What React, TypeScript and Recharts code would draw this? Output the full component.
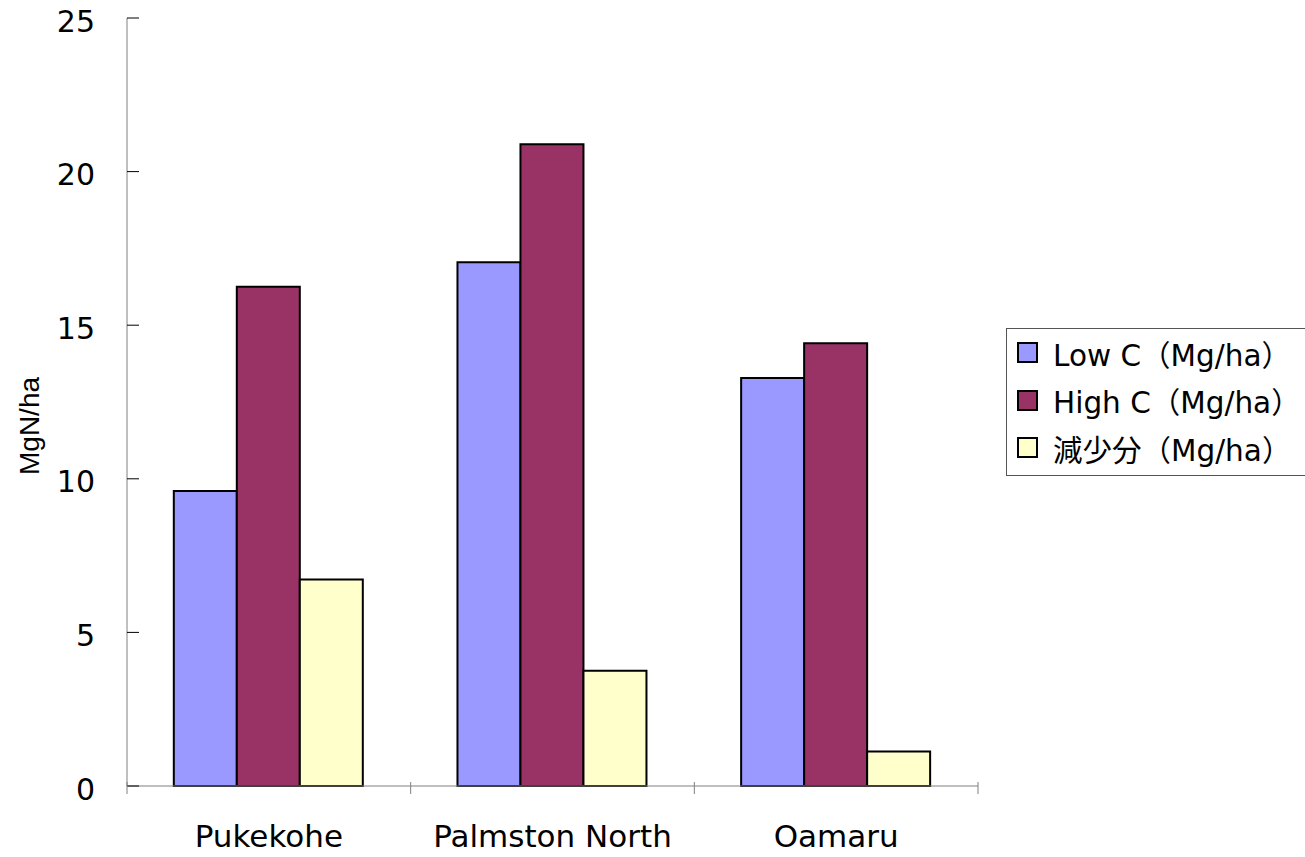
import { Bar, BarChart, Legend, XAxis, YAxis } from "recharts";

const sites = ["Pukekohe", "Palmston North", "Oamaru"];
const lowC = [9.6, 17.05, 13.28];
const highC = [16.25, 20.89, 14.41];
const reduction = [6.72, 3.75, 1.12];
const yTicks = [0, 5, 10, 15, 20, 25];

const seriesDefs = [
  { key: "lowC", name: "Low C（Mg/ha）", color: "#9999ff" },
  { key: "highC", name: "High C（Mg/ha）", color: "#993366" },
  { key: "reduction", name: "減少分（Mg/ha）", color: "#ffffcc" },
];

const data = sites.map((site, i) => ({
  site,
  lowC: lowC[i],
  highC: highC[i],
  reduction: reduction[i],
}));

const FONT = "'DejaVu Sans', 'Noto Sans CJK JP', sans-serif";

// category ticks sit between the groups, so draw the tick marks at band edges
function SiteTick(props: any) {
  const { x, y, payload, index } = props;
  const half = payload.offset ?? 0;
  return (
    <g>
      {index === 0 && <line x1={x - half} x2={x - half} y1={y} y2={y - 12} stroke="#808080" />}
      <line x1={x + half} x2={x + half} y1={y} y2={y - 12} stroke="#808080" />
      <text x={x} y={y + 53} textAnchor="middle" fontSize={31} fontFamily={FONT} fill="#000">
        {payload.value}
      </text>
    </g>
  );
}

function YLabel(props: any) {
  const { viewBox } = props;
  const cx = 29;
  const cy = viewBox.y + viewBox.height / 2 + 24;
  return (
    <text
      x={cx}
      y={cy}
      transform={`rotate(-90 ${cx} ${cy})`}
      textAnchor="middle"
      dominantBaseline="central"
      fontSize={28}
      fontFamily="'Liberation Sans', sans-serif"
      fill="#000"
    >
      MgN/ha
    </text>
  );
}

function LegendBox() {
  return (
    <div
      style={{
        border: "1px solid #555",
        background: "#fff",
        padding: "0 0 3px 10px",
        width: 300,
        boxSizing: "border-box",
        fontFamily: FONT,
        fontSize: 29.5,
      }}
    >
      {seriesDefs.map((s) => (
        <div key={s.key} style={{ display: "flex", alignItems: "center", height: 47.5 }}>
          <span
            style={{
              width: 17,
              height: 17,
              background: s.color,
              border: "2px solid #000",
              marginRight: 15,
              display: "inline-block",
              flexShrink: 0,
            }}
          />
          <span style={{ whiteSpace: "nowrap" }}>{s.name}</span>
        </div>
      ))}
    </div>
  );
}

export default function App() {
  return (
    <div style={{ position: "absolute", left: 0, top: 0, background: "#fff", overflow: "hidden" }}>
      <BarChart
        width={1305}
        height={857}
        data={data}
        margin={{ top: 18, right: 327, bottom: 0, left: 0 }}
        barCategoryGap="16.5%"
        barGap={0}
      >
        <XAxis
          dataKey="site"
          height={71}
          axisLine={{ stroke: "#808080" }}
          tickLine={false}
          tick={<SiteTick />}
          interval={0}
        />
        <YAxis
          width={127}
          domain={[0, 25]}
          ticks={yTicks}
          interval={0}
          axisLine={{ stroke: "#808080" }}
          tickLine={{ stroke: "#000" }}
          tickSize={-12}
          tickMargin={44}
          tick={{ fontSize: 30, fontFamily: FONT, fill: "#000", dy: 3 }}
          label={<YLabel />}
        />
        <Legend
          layout="horizontal"
          align="center"
          verticalAlign="middle"
          content={<LegendBox />}
          wrapperStyle={{ left: 1006, top: 328, width: 300 }}
        />
        {seriesDefs.map((s) => (
          <Bar
            key={s.key}
            dataKey={s.key}
            name={s.name}
            fill={s.color}
            stroke="#000"
            strokeWidth={2}
            isAnimationActive={false}
          />
        ))}
      </BarChart>
    </div>
  );
}
